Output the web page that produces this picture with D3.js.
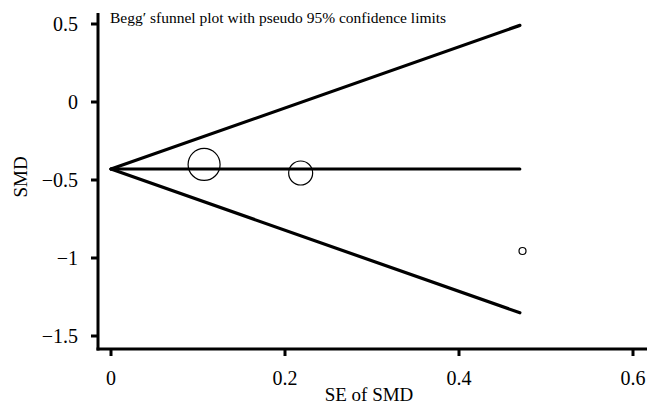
<!DOCTYPE html>
<html>
<head>
<meta charset="utf-8">
<script src="https://cdn.jsdelivr.net/npm/d3@7"></script>
<style>
  body { margin: 0; background: #fff; }
</style>
</head>
<body>
<div id="root"></div>
<script>
// study points: standard error of SMD, SMD, circle radius (weight)
const studySE = [0.107, 0.218, 0.473];
const studySMD = [-0.40, -0.455, -0.955];
const studyRadius = [16, 12, 3.5];

// pooled estimate and funnel extent
const pooledSMD = -0.43;
const maxSE = 0.47;
const z95 = 1.96;

const xTicks = [0, 0.2, 0.4, 0.6];
const yTicks = [0.5, 0, -0.5, -1, -1.5];

const title = "Begg\u2032 sfunnel plot with pseudo 95% confidence limits";
const FONT = "'Liberation Serif', 'Times New Roman', Times, serif";

const W = 647, H = 402;
const svg = d3.select("#root").append("svg").attr("width", W).attr("height", H)
	.attr("font-family", FONT);

const x = d3.scaleLinear().domain([0, 0.6]).range([111, 633]);
const y = d3.scaleLinear().domain([0.5, -1.5]).range([24, 336]);

const fmt = (d) => (d < 0 ? "\u2212" : "") + Math.abs(d);

// axes lines
svg.append("line")
	.attr("x1", 98).attr("x2", 98).attr("y1", 13).attr("y2", 350.5)
	.attr("stroke", "#000").attr("stroke-width", 3);
svg.append("line")
	.attr("x1", 96.5).attr("x2", W).attr("y1", 349).attr("y2", 349)
	.attr("stroke", "#000").attr("stroke-width", 3);

// y ticks
const yg = svg.append("g");
yg.selectAll("line").data(yTicks).enter().append("line")
	.attr("x1", 91).attr("x2", 98)
	.attr("y1", (d) => y(d)).attr("y2", (d) => y(d))
	.attr("stroke", "#000").attr("stroke-width", 3);
yg.selectAll("text").data(yTicks).enter().append("text")
	.attr("x", 78).attr("y", (d) => y(d) + 7)
	.attr("text-anchor", "end")
	.attr("font-size", 20)
	.attr("fill", "#000")
	.text(fmt);

// x ticks
const xg = svg.append("g");
xg.selectAll("line").data(xTicks).enter().append("line")
	.attr("x1", (d) => x(d)).attr("x2", (d) => x(d))
	.attr("y1", 349).attr("y2", 356)
	.attr("stroke", "#000").attr("stroke-width", 3);
xg.selectAll("text").data(xTicks).enter().append("text")
	.attr("x", (d) => x(d)).attr("y", 385)
	.attr("text-anchor", "middle")
	.attr("font-size", 20)
	.attr("fill", "#000")
	.text(fmt);

// axis titles
svg.append("text")
	.attr("x", 369).attr("y", 401)
	.attr("text-anchor", "middle")
	.attr("font-size", 19)
	.attr("fill", "#000")
	.text("SE of SMD");
svg.append("text")
	.attr("transform", "translate(27," + y(-0.48) + ") rotate(-90)")
	.attr("text-anchor", "middle")
	.attr("font-size", 19)
	.attr("fill", "#000")
	.text("SMD");

// funnel limits
const line = d3.line().x((d) => x(d[0])).y((d) => y(d[1]));
const upper = [[0, pooledSMD], [maxSE, pooledSMD + z95 * maxSE]];
const lower = [[0, pooledSMD], [maxSE, pooledSMD - z95 * maxSE]];
const pooled = [[0, pooledSMD], [maxSE, pooledSMD]];
[upper, lower].forEach((p) => {
	svg.append("path").attr("d", line(p))
		.attr("fill", "none").attr("stroke", "#000")
		.attr("stroke-width", 3.2).attr("stroke-linecap", "round");
});
svg.append("path").attr("d", line(pooled))
	.attr("fill", "none").attr("stroke", "#000")
	.attr("stroke-width", 3).attr("stroke-linecap", "round");

// studies
svg.append("g").selectAll("circle")
	.data(studySE.map((se, i) => ({ se: se, smd: studySMD[i], r: studyRadius[i] })))
	.enter().append("circle")
	.attr("cx", (d) => x(d.se)).attr("cy", (d) => y(d.smd))
	.attr("r", (d) => d.r)
	.attr("fill", "none").attr("stroke", "#000").attr("stroke-width", 1.2);

// title
svg.append("text")
	.attr("x", 110).attr("y", 23)
	.attr("font-size", 15.5)
	.attr("fill", "#000")
	.text(title);
</script>
</body>
</html>
